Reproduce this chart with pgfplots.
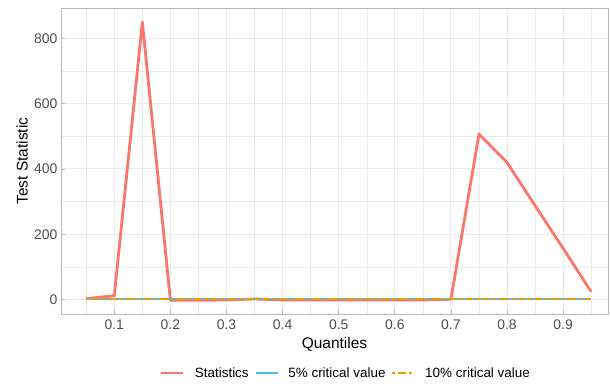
\documentclass[border=0pt]{standalone}
\usepackage{pgfplots}
\pgfplotsset{compat=1.18}
\usepackage{fontspec}
\setmainfont{Liberation Sans}
\definecolor{stat}{HTML}{F8766D}
\definecolor{cvfive}{HTML}{56B4E9}
\definecolor{cvten}{HTML}{E69F00}
\definecolor{gridc}{HTML}{EBEBEB}
\definecolor{ticktxt}{HTML}{4D4D4D}
\begin{document}
\begin{tikzpicture}
\begin{axis}[
  scale only axis,
  width=547bp, height=306bp,
  at={(0,0)}, anchor=south west,
  xmin=0.005, xmax=0.98,
  ymin=-44, ymax=893,
  axis line style={draw=gray!55, line width=0.8bp},
  xtick={0.1,0.2,0.3,0.4,0.5,0.6,0.7,0.8,0.9},
  xticklabels={0.1,0.2,0.3,0.4,0.5,0.6,0.7,0.8,0.9},
  minor xtick={0.05,0.15,0.25,0.35,0.45,0.55,0.65,0.75,0.85,0.95},
  ytick={0,200,400,600,800},
  yticklabels={0,200,400,600,800},
  minor ytick={100,300,500,700},
  grid=both,
  major grid style={draw=gridc, line width=1bp},
  minor grid style={draw=gridc, line width=0.5bp},
  tick pos=left,
  major tick length=4bp,
  minor tick length=0pt,
  tick style={draw=gray!55, line width=0.8bp},
  tick label style={font=\fontsize{14}{16}\selectfont, text=ticktxt},
  xticklabel style={yshift=-2bp},
  xlabel={Quantiles},
  ylabel={Test Statistic},
  label style={font=\fontsize{15.5}{18}\selectfont},
  xlabel style={at={(axis description cs:0.5,0)}, anchor=center, yshift=-30bp},
  ylabel style={at={(axis description cs:-0.0713,0.5)}, anchor=center},
  legend columns=3,
  legend style={at={(axis description cs:0.521,0)}, anchor=center, yshift=-59bp,
    draw=none, fill=none, font=\fontsize{13.5}{16}\selectfont,
    /tikz/every even column/.append style={column sep=4bp},
    /tikz/every odd column/.append style={column sep=8bp}},
  legend cell align=left,
  legend image code/.code={\draw[#1] (0bp,0bp) -- (22bp,0bp);},
]
\addplot[stat, line width=2.8bp, line join=round] coordinates {
(0.05,3) (0.10,12) (0.15,850) (0.20,-2) (0.25,-2) (0.30,-1) (0.35,2) (0.40,-1)
(0.45,-1) (0.50,-1) (0.55,-1) (0.60,-1) (0.65,-1) (0.70,1) (0.75,507) (0.80,420)
(0.85,288) (0.90,157) (0.95,24)
};
\addlegendentry{Statistics}
\addplot[cvfive, line width=1.7bp] coordinates {
(0.05,2.5) (0.10,2.5) (0.15,2.5) (0.20,2.5) (0.25,2.5) (0.30,2.5) (0.35,2.5) (0.40,2.5)
(0.45,2.5) (0.50,2.5) (0.55,2.5) (0.60,2.5) (0.65,2.5) (0.70,2.5) (0.75,2.5) (0.80,2.5)
(0.85,2.5) (0.90,2.5) (0.95,2.5)
};
\addlegendentry{5\% critical value}
\addplot[cvten, line width=1.7bp, dash pattern=on 3bp off 3bp on 8bp off 3bp] coordinates {
(0.05,2) (0.10,2) (0.15,2) (0.20,2) (0.25,2) (0.30,2) (0.35,2) (0.40,2)
(0.45,2) (0.50,2) (0.55,2) (0.60,2) (0.65,2) (0.70,2) (0.75,2) (0.80,2)
(0.85,2) (0.90,2) (0.95,2)
};
\addlegendentry{10\% critical value}
\end{axis}
\pgfresetboundingbox
\path[use as bounding box] (-61bp,-72bp) rectangle (549bp,314bp);
\end{tikzpicture}
\end{document}
